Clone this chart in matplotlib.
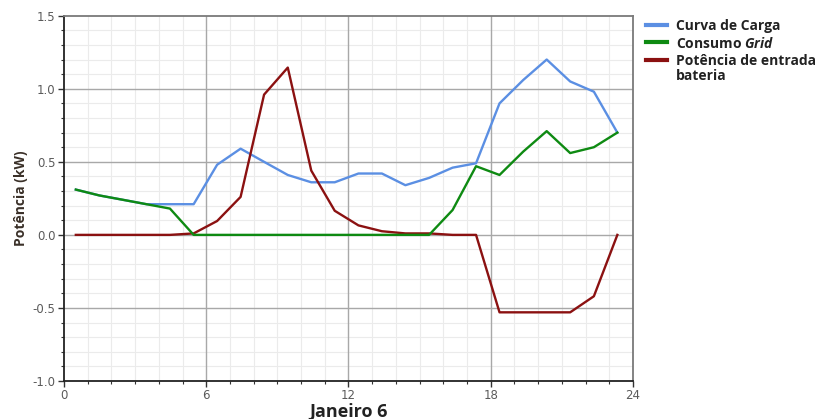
import matplotlib
matplotlib.use('Agg')
import matplotlib.pyplot as plt
import matplotlib.ticker as mticker
from matplotlib.lines import Line2D

plt.rcParams['font.family'] = ['Open Sans', 'DejaVu Sans']
plt.rcParams['mathtext.fontset'] = 'custom'
plt.rcParams['mathtext.it'] = 'Open Sans:italic:bold'
plt.rcParams['mathtext.rm'] = 'Open Sans:bold'

# ── dados (hora do dia, kW) ──────────────────────────────────────────────────
horas = [0.50, 1.49, 2.49, 3.48, 4.47, 5.47, 6.46, 7.45, 8.44, 9.44, 10.43, 11.42,
         12.42, 13.41, 14.40, 15.40, 16.39, 17.38, 18.37, 19.37, 20.36, 21.35, 22.35, 23.34]

curva_carga = [0.31, 0.27, 0.24, 0.21, 0.21, 0.21, 0.48, 0.59, 0.50, 0.41, 0.36, 0.36,
               0.42, 0.42, 0.34, 0.39, 0.46, 0.49, 0.90, 1.06, 1.20, 1.05, 0.98, 0.70]

consumo_grid = [0.31, 0.27, 0.24, 0.21, 0.18, 0.00, 0.00, 0.00, 0.00, 0.00, 0.00, 0.00,
                0.00, 0.00, 0.00, 0.00, 0.17, 0.47, 0.41, 0.57, 0.71, 0.56, 0.60, 0.70]

pot_bateria = [0.00, 0.00, 0.00, 0.00, 0.00, 0.01, 0.095, 0.26, 0.96, 1.145, 0.44, 0.165,
               0.065, 0.025, 0.01, 0.01, 0.00, 0.00, -0.53, -0.53, -0.53, -0.53, -0.42, 0.00]

x_major = [0, 6, 12, 18, 24]
y_major = [-1.0, -0.5, 0.0, 0.5, 1.0, 1.5]

series = [
    ('Curva de Carga', curva_carga, '#5B8FE3', 3),
    ('Consumo $\\it{Grid}$', consumo_grid, '#0E8A12', 4),
    ('Potência de entrada\nbateria', pot_bateria, '#8B1111', 3),
]

# ── figura ───────────────────────────────────────────────────────────────────
fig = plt.figure(figsize=(8.19, 4.19), dpi=100)
ax = fig.add_axes([0.0781, 0.0907, 0.6948, 0.8718])

for nome, valores, cor, z in series:
    ax.plot(horas, valores, color=cor, linewidth=1.7, zorder=z)

# ── eixos ────────────────────────────────────────────────────────────────────
ax.set_xlim(0, 24)
ax.set_ylim(-1.0, 1.5)
ax.set_xticks(x_major)
ax.set_yticks(y_major)
ax.xaxis.set_minor_locator(mticker.MultipleLocator(1))
ax.yaxis.set_minor_locator(mticker.MultipleLocator(0.1))
ax.yaxis.set_major_formatter(mticker.FormatStrFormatter('%.1f'))

# grade menor por baixo, grade maior por cima dela
ax.grid(which='minor', color='#EBEBEB', linewidth=0.8, zorder=0)
ax.set_axisbelow(True)
for xv in x_major[1:-1]:
    ax.axvline(xv, color='#A8A8A8', linewidth=1.0, zorder=1)
for yv in y_major[1:-1]:
    ax.axhline(yv, color='#A8A8A8', linewidth=1.0, zorder=1)

for lbl in ax.get_xticklabels() + ax.get_yticklabels():
    lbl.set_family(['DejaVu Sans'])
ax.tick_params(which='major', length=4, width=1, colors='#333333', labelcolor='#5A5A5A',
               labelsize=8.5, pad=2)
ax.tick_params(which='minor', length=2.5, width=0.8, colors='#333333')

ax.spines['left'].set_color('#222222')
ax.spines['bottom'].set_color('#222222')
ax.spines['top'].set_color('#7A7A7A')
ax.spines['right'].set_color('#7A7A7A')
for s in ax.spines.values():
    s.set_linewidth(1.3)

ax.set_xlabel('Janeiro 6', fontsize=13, fontweight='bold', color='#222222', labelpad=0)
ax.set_ylabel('Potência (kW)', fontsize=10, fontweight='bold', color='#3A3028', labelpad=3)

# ── legenda (manual: traço alinhado com a primeira linha do texto) ──────────
W, H = 819, 419
linhas_y = [25, 42, 60]
for (nome, _, cor, _), yy in zip(series, linhas_y):
    fy = 1 - yy / H
    fig.add_artist(Line2D([646 / W, 667 / W], [fy, fy], color=cor, linewidth=3,
                          transform=fig.transFigure))
    fig.text(676 / W, fy + 6 / H, nome, ha='left', va='top', fontsize=10,
             fontweight='bold', color='#222222', linespacing=1.1)

fig.savefig('out.png', dpi=100)
